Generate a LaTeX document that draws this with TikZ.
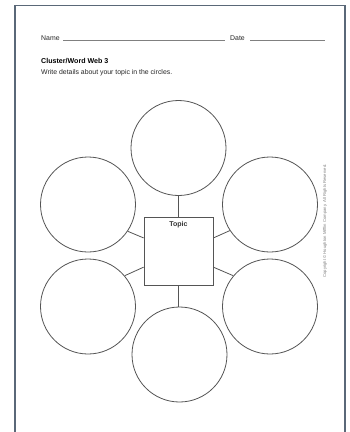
\documentclass[tikz,border=0pt]{standalone}
\usepackage{fontspec}
\setmainfont{Liberation Sans}
\usetikzlibrary{calc}
\definecolor{frame}{HTML}{5A6878}
\definecolor{ink}{HTML}{555555}
\begin{document}
\begin{tikzpicture}[x=1pt,y=-1pt,
  web/.style={circle,draw=ink,line width=0.8pt,minimum size=95pt,inner sep=0pt},
  topicbox/.style={rectangle,draw=ink,line width=0.8pt,minimum width=69pt,minimum height=68pt,inner sep=0pt},
  link/.style={draw=ink,line width=0.8pt},
  small/.style={font=\fontsize{6.9}{8}\selectfont,inner sep=0pt,anchor=base west,text=black!85}]
\useasboundingbox (0,0) rectangle (350,432);
\fill[white] (0,0) rectangle (350,432);
\draw[frame,line width=1.2pt] (15,432) -- (15,5.5) -- (345,5.5) -- (345,432);
% header
\node[small] (name) at (41,40) {Name};
\coordinate (nameA) at (63,40.5);
\coordinate (nameB) at (225,40.5);
\draw[gray,line width=0.4pt] (nameA) -- (nameB);
\node[small] (date) at (230,40) {Date};
\coordinate (dateA) at (250,40.5);
\coordinate (dateB) at (325,40.5);
\draw[gray,line width=0.4pt] (dateA) -- (dateB);
\node[font=\fontsize{7.1}{8}\selectfont\bfseries,inner sep=0pt,anchor=base west] (title) at (41,63.5) {Cluster/Word Web 3};
\node[small] (instr) at (41,74) {Write details about your topic in the circles.};
% web
\node[topicbox] (sq) at (178.5,251) {};
\node[font=\fontsize{7}{8}\selectfont\bfseries,inner sep=0pt,text=black!80] (topic) at (178.5,225) {Topic};
\node[web] (c1) at (178.5,148) {};
\node[web] (c2) at (88,204.5) {};
\node[web] (c3) at (270,204.5) {};
\node[web] (c4) at (88,306.5) {};
\node[web] (c5) at (270,306.5) {};
\node[web] (c6) at (179.5,354.5) {};
\draw[link] (c1.south) -- (c1.south |- sq.north);
\draw[link] (sq.south -| c1.south) -- (c6.north -| c1.south);
\draw[link] (c2.-34) -- ($(sq.north west)!0.31!(sq.south west)$);
\draw[link] (c4.40) -- ($(sq.north west)!0.735!(sq.south west)$);
\draw[link] (c3.213.5) -- ($(sq.north east)!0.31!(sq.south east)$);
\draw[link] (c5.140) -- ($(sq.north east)!0.735!(sq.south east)$);
% copyright
\node[rotate=90,font=\fontsize{4.2}{5}\selectfont,text=gray,inner sep=0pt] (copy) at (325,221) {Copyright \textcopyright\ Houghton Mifflin Company. All Rights Reserved.};
\end{tikzpicture}
\end{document}
